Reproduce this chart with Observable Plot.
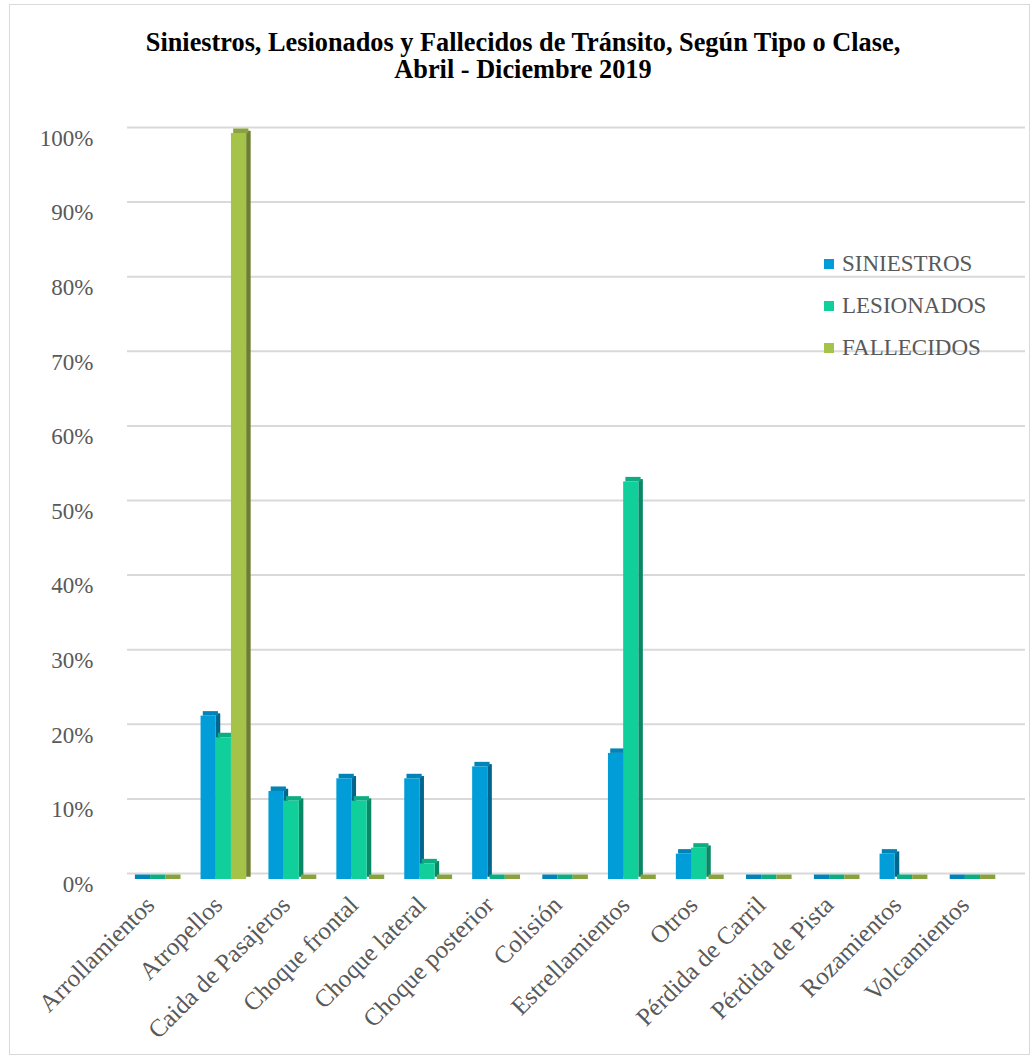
<!DOCTYPE html>
<html>
<head>
<meta charset="utf-8">
<script src="https://cdn.jsdelivr.net/npm/d3@7"></script>
<script src="https://cdn.jsdelivr.net/npm/@observablehq/plot@0.6"></script>
<style>
  html, body { margin: 0; padding: 0; background: #fff; }
  #wrap { position: relative; width: 1034px; height: 1060px; overflow: hidden; font-family: "Liberation Serif", "Times New Roman", serif; }
  #frame { position: absolute; left: 9px; top: 4px; width: 1019px; height: 1049px; border: 1.5px solid #d9d9d9; }
  #title { position: absolute; left: 0; width: 1046px; top: 29px; text-align: center; font-weight: bold; font-size: 26.3px; line-height: 27px; color: #000; font-family: "Liberation Serif", "Times New Roman", serif; }
  #chart { position: absolute; left: 0; top: 0; }
  #legend { position: absolute; left: 824px; top: 243px; }
  .lg { display: flex; align-items: center; height: 42px; font-size: 23px; color: #595959; font-family: "Liberation Serif", "Times New Roman", serif; }
  .sw { width: 10px; height: 10px; margin-right: 8px; }
</style>
</head>
<body>
<div id="wrap">
  <div id="frame"></div>
  <div id="chart"></div>
  <div id="title">Siniestros, Lesionados y Fallecidos de Tránsito, Según Tipo o Clase,<br>Abril - Diciembre 2019</div>
  <div id="legend"></div>
</div>
<script>
const categories = ["Arrollamientos","Atropellos","Caida de Pasajeros","Choque frontal","Choque lateral","Choque posterior","Colisión","Estrellamientos","Otros","Pérdida de Carril","Pérdida de Pista","Rozamientos","Volcamientos"];
const seriesNames = ["SINIESTROS","LESIONADOS","FALLECIDOS"];
const siniestros = [0, 21.9, 11.8, 13.5, 13.5, 15.1, 0, 16.9, 3.4, 0, 0, 3.4, 0];
const lesionados = [0, 19.0, 10.5, 10.5, 2.1, 0, 0, 53.3, 4.2, 0, 0, 0, 0];
const fallecidos = [0, 100, 0, 0, 0, 0, 0, 0, 0, 0, 0, 0, 0];
const yTicks = [0, 10, 20, 30, 40, 50, 60, 70, 80, 90, 100];
const colors = ["#009DD9", "#10CF9B", "#A5C249"];

const seriesValues = [siniestros, lesionados, fallecidos];
const W = 1034, H = 1060;
const xRange = [121.5, 1004.2];
const step = (xRange[1] - xRange[0]) / categories.length;
const barW = 15.2, groupOff = (step - 3 * barW) / 2, depth = 4.5;

const marks = [];
marks.push(Plot.ruleY(yTicks, {y: d => d, stroke: "#d9d9d9", strokeWidth: 2, dy: -6}));
seriesValues.forEach((vals, k) => {
  const rows = categories.map((c, i) => ({category: c, value: vals[i]}));
  const base = d3.color(colors[k]);
  const side = base.darker(1.2).formatHex();
  const top = base.darker(0.5).formatHex();
  const L = groupOff + barW * k;
  const R = step - L - barW;
  marks.push(Plot.barY(rows, {x: "category", y1: 0, y2: "value", fill: side, insetLeft: L + barW, insetRight: R - depth, dy: -depth / 2}));
  marks.push(Plot.barY(rows, {x: "category", y1: "value", y2: "value", fill: top, insetLeft: L + depth / 2, insetRight: R - depth / 2, insetTop: -depth}));
  marks.push(Plot.barY(rows, {x: "category", y1: 0, y2: "value", fill: colors[k], insetLeft: L, insetRight: R}));
});
marks.push(Plot.text(yTicks, {y: d => d, text: d => d + "%", frameAnchor: "left", textAnchor: "end", dx: -34, dy: 5, fontSize: 23, fill: "#595959"}));
marks.push(Plot.text(categories, {x: d => d, y: () => 0, text: d => d, rotate: -45, textAnchor: "end", lineAnchor: "bottom", dy: 27, fontSize: 25, fill: "#595959"}));

const chart = Plot.plot({
  width: W, height: H,
  marginTop: 133, marginBottom: 181, marginLeft: 127, marginRight: 9,
  x: {domain: categories, range: xRange, padding: 0, round: false, axis: null},
  y: {domain: [0, 100], axis: null},
  style: {background: "transparent", fontFamily: "'Liberation Serif', 'Times New Roman', serif"},
  marks
});
document.getElementById("chart").appendChild(chart);

const legend = document.getElementById("legend");
seriesNames.forEach((n, k) => {
  const row = document.createElement("div");
  row.className = "lg";
  const sw = document.createElement("span");
  sw.className = "sw";
  sw.style.background = colors[k];
  row.appendChild(sw);
  row.appendChild(document.createTextNode(n));
  legend.appendChild(row);
});
</script>
</body>
</html>
